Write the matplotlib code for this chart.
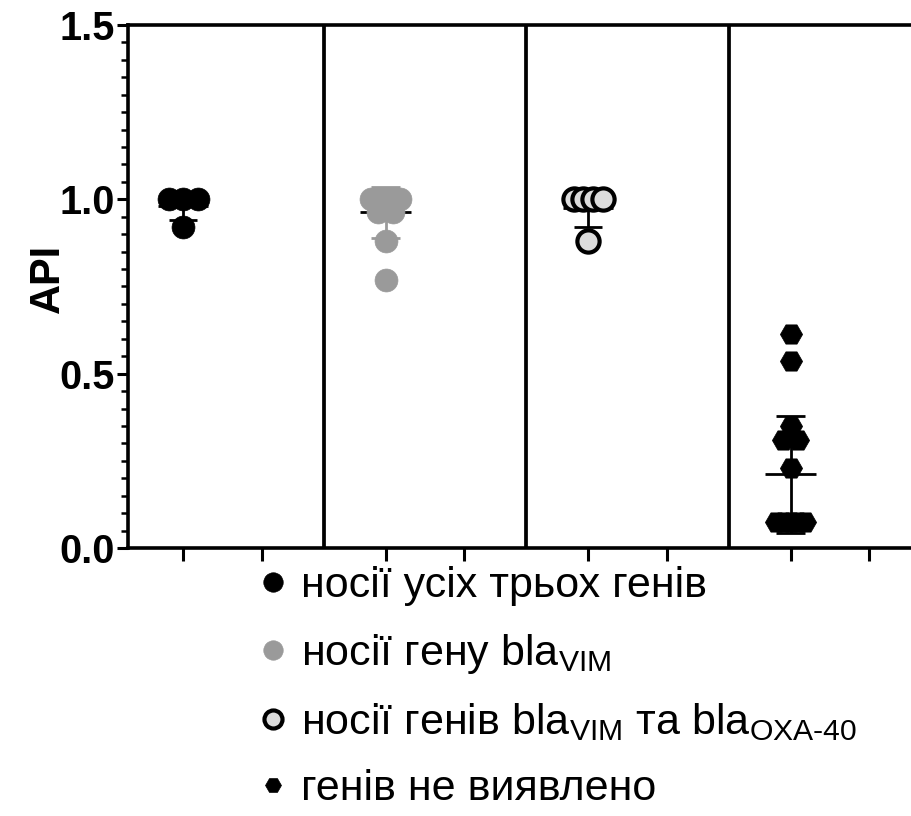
import numpy as np
import matplotlib
matplotlib.use('Agg')
import matplotlib.pyplot as plt
from matplotlib.lines import Line2D
from matplotlib.ticker import MultipleLocator

plt.rcParams['font.family'] = ['Liberation Sans', 'DejaVu Sans']
plt.rcParams['mathtext.fontset'] = 'custom'
plt.rcParams['mathtext.rm'] = 'Liberation Sans'
plt.rcParams['mathtext.it'] = 'Liberation Sans:italic'
plt.rcParams['mathtext.bf'] = 'Liberation Sans:bold'

# ---------------- data ----------------
legend_labels = [
    'носії усіх трьох генів',
    r'носії гену bla$_{\mathregular{VIM}}$',
    r'носії генів bla$_{\mathregular{VIM}}$ та bla$_{\text{OXA-40}}$',
    'генів не виявлено',
]
all_three = [1.0, 1.0, 1.0, 0.92]
vim_only = [1.0, 1.0, 1.0, 1.0, 1.0, 1.0, 1.0, 0.965, 0.965, 0.88, 0.77]
vim_oxa = [1.0, 1.0, 1.0, 1.0, 0.88]
none_found = [0.615, 0.535, 0.35, 0.31, 0.31, 0.23, 0.075, 0.075, 0.075, 0.075, 0.075]
group_means = [0.98, 0.963, 0.976, 0.212]
group_sds = [0.04, 0.073, 0.054, 0.168]
y_ticks = [0.0, 0.5, 1.0, 1.5]
y_tick_labels = ['0.0', '0.5', '1.0', '1.5']

groups = [all_three, vim_only, vim_oxa, none_found]

# ---------------- styles ----------------
face = ['#000000', '#9a9a9a', '#dcdcdc', '#000000']
edge = ['#000000', '#9a9a9a', '#000000', '#000000']
bar_col = ['#000000', '#9a9a9a', '#000000', '#000000']
marker = ['o', 'o', 'o', 'H']
msize = [16.5, 16.5, 16.0, 16.0]
medge = [0.5, 0.5, 3.0, 0.5]

W, H = 912, 816
fig = plt.figure(figsize=(W / 100, H / 100), dpi=100)
ax = fig.add_axes([128 / W, (H - 548) / H, (W - 128) / W, (548 - 25) / H])

gap = 2.57
group_pos = [i * gap for i in range(4)]
tick_pos = sorted(group_pos + [p + 1 for p in group_pos])
sep_pos = [(p + 1 + p + gap) / 2 for p in group_pos[:-1]]

step, half_w = 0.184, 0.184


def swarm_offsets(vals):
    vals = np.asarray(vals)
    offs = np.zeros(len(vals))
    for v in np.unique(vals):
        idx = np.where(vals == v)[0]
        n = len(idx)
        if n > 1:
            s = min(step, 2 * half_w / (n - 1))
            offs[idx] = (np.arange(n) - (n - 1) / 2) * s
    return offs


for i, vals in enumerate(groups):
    x0 = group_pos[i]
    m, sd = group_means[i], group_sds[i]
    # error bar (mean ± SD) behind the points
    ax.plot([x0, x0], [m - sd, m + sd], color=bar_col[i], lw=2.0, zorder=2,
            solid_capstyle='butt')
    for yv in (m - sd, m + sd):
        ax.plot([x0 - 0.18, x0 + 0.18], [yv, yv], color=bar_col[i], lw=2.0,
                zorder=2, solid_capstyle='butt')
    ax.plot([x0 - 0.32, x0 + 0.32], [m, m], color='black', lw=2.0, zorder=2,
            solid_capstyle='butt')
    xs = x0 + swarm_offsets(vals)
    ax.plot(xs, vals, linestyle='none', marker=marker[i], markersize=msize[i],
            markerfacecolor=face[i], markeredgecolor=edge[i],
            markeredgewidth=medge[i], zorder=3)

for s in sep_pos:
    ax.axvline(s, color='black', lw=2.7, zorder=1)

ax.set_xlim(-0.698, 9.25)
ax.set_ylim(0, 1.5)
ax.set_xticks(tick_pos, labels=[])
ax.set_yticks(y_ticks, labels=y_tick_labels, fontsize=28.5, fontweight='bold')
ax.yaxis.set_minor_locator(MultipleLocator(0.05))
ax.tick_params(axis='y', which='major', length=8, width=2.2, pad=1.5)
ax.tick_params(axis='y', which='minor', length=5, width=1.8)
ax.tick_params(axis='x', which='major', length=9, width=2.2)
for side in ('left', 'bottom', 'top'):
    ax.spines[side].set_linewidth(2.6)
ax.spines['right'].set_visible(False)

ax.set_ylabel('API', fontsize=30, fontweight='bold')
ax.yaxis.set_label_coords(-0.076, 0.516)

handles = []
leg_ms = [14, 14, 13, 11.5]
for i in range(4):
    handles.append(Line2D([], [], linestyle='none', marker=marker[i],
                          markersize=leg_ms[i], markerfacecolor=face[i],
                          markeredgecolor=edge[i],
                          markeredgewidth=(3.0 if i == 2 else 0.5)))
fig.legend(handles, legend_labels, loc='upper left',
           bbox_to_anchor=(258 / W, 1 - 566 / H), frameon=False,
           fontsize=31, handlelength=0.7, handletextpad=0.3,
           labelspacing=0.6, borderpad=0, borderaxespad=0)

fig.savefig('out.png', dpi=100)
